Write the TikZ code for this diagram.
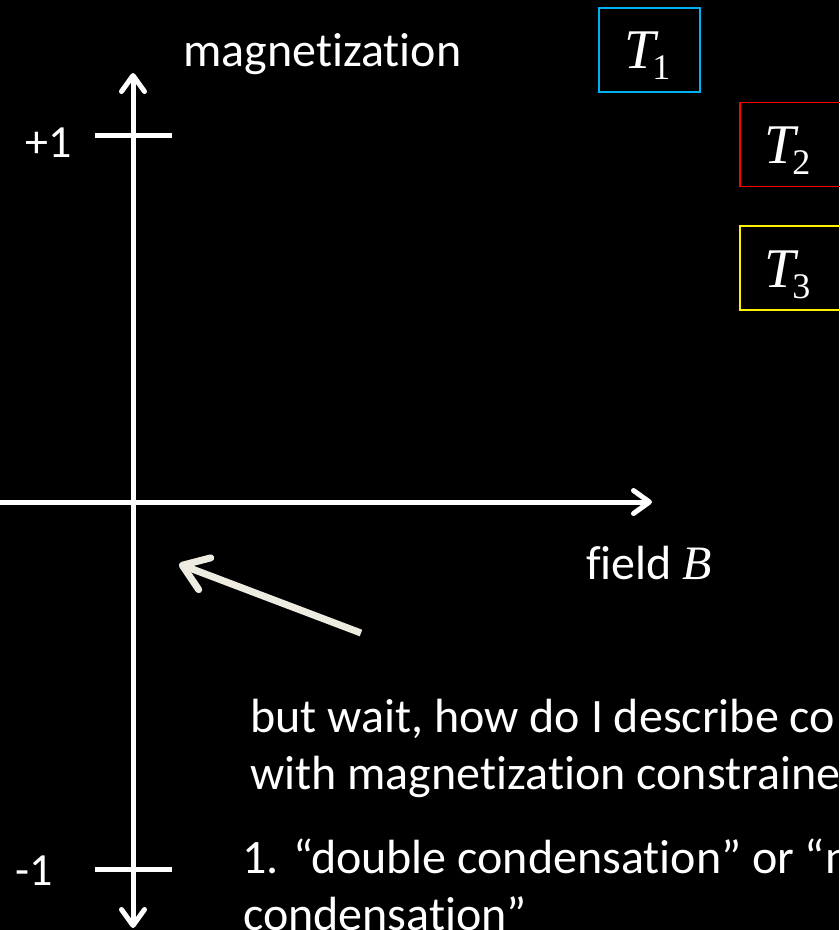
\documentclass[tikz,border=0pt]{standalone}
\usepackage{fontspec}
\setmainfont{Carlito}[Ligatures={NoCommon,NoRare,NoContextual}]
\newfontfamily\serifmath{Liberation Serif}
\usetikzlibrary{arrows.meta}
\definecolor{tblue}{RGB}{0,176,240}
\definecolor{cream}{RGB}{238,236,225}
\newcommand\Tlab[1]{{\fontsize{56}{56}\selectfont\serifmath\itshape T}\kern-3pt\raisebox{-11pt}{\fontsize{36}{36}\selectfont\serifmath #1}}
\tikzset{axbarb/.tip={Straight Barb[length=16pt,width=23pt,round]}}
\begin{document}
\begin{tikzpicture}[x=1pt,y=-1pt,
  txt/.style={text=white,inner sep=0pt,anchor=base west,font=\fontsize{48}{57.6}\selectfont},
  axisline/.style={draw=white,line width=5pt},
  tickline/.style={draw=white,line width=5pt},
  tbox/.style={draw=#1,line width=1.6pt,minimum width=101pt,minimum height=84pt,inner sep=0pt},
  tlabel/.style={text=white,inner sep=0pt,anchor=base west}]
\fill[black] (0,0) rectangle (839,930);
\useasboundingbox (0,0) rectangle (839,930);
% axes
\coordinate (vtop) at (133,73);
\coordinate (vbot) at (133,928);
\coordinate (hleft) at (-10,502);
\coordinate (hright) at (652,502);
\draw[axisline,axbarb-axbarb] (vbot) -- (vtop);
\draw[axisline,-axbarb] (hleft) -- (hright);
% ticks
\coordinate (t1a) at (95,135); \coordinate (t1b) at (172,135);
\coordinate (t2a) at (95,869); \coordinate (t2b) at (172,869);
\draw[tickline] (t1a) -- (t1b);
\draw[tickline] (t2a) -- (t2b);
% labels
\node[txt] (mag) at (183,66) {magnetization};
\node[txt,font=\fontsize{46}{55}\selectfont] (plus) at (25,157) {+1};
\node[txt,font=\fontsize{46}{55}\selectfont] (minus) at (15,885) {-1};
\node[txt] (field) at (586,579) {field {\serifmath\itshape B}};
% T boxes
\node[tbox=tblue] (b1) at (649.5,50) {};
\node[tbox=red] (b2) at (790.5,144.5) {};
\node[tbox=yellow] (b3) at (790.5,268) {};
\node[tlabel] (l1) at (624,68) {\Tlab{1}};
\node[tlabel] (l2) at (764,163) {\Tlab{2}};
\node[tlabel] (l3) at (764,287) {\Tlab{3}};
% annotation arrow
\coordinate (atail) at (361,633);
\coordinate (atip) at (179,564);
\draw[cream,line width=7pt,-{Straight Barb[length=24pt,width=34pt,round]}] (atail) -- (atip);
% text
\node[txt] (line1) at (250,732) {but wait, how do I describe co};
\node[txt] (line2) at (250,789) {with magnetization constraine};
\node[txt] (line3) at (242,873) {1. “double condensation” or “n};
\node[txt] (line4) at (243,930) {condensation”};
\end{tikzpicture}
\end{document}
